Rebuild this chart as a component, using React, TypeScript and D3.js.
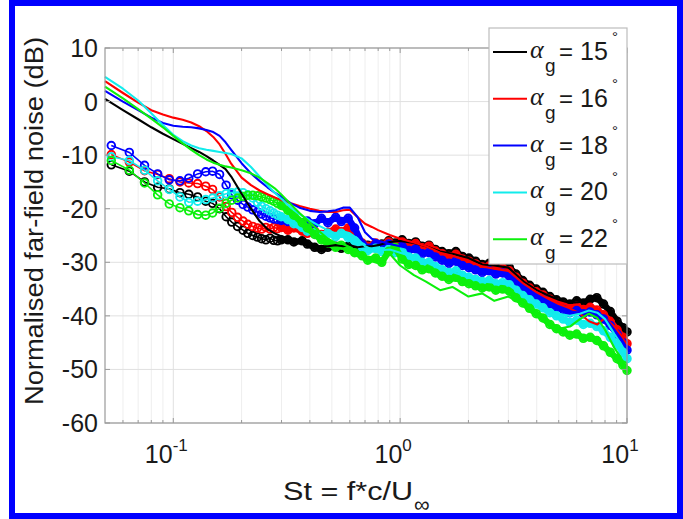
import React from "react";
import * as d3 from "d3";

// ---------- data ----------
const xTickVals = [0.1, 1, 10];
const xTickExp = ["-1", "0", "1"];
const yTickVals = [10, 0, -10, -20, -30, -40, -50, -60];
const legendAngles = ["15", "16", "18", "20", "22"];
const seriesColors = ["#000000", "#ff0000", "#0000ff", "#12ecec", "#0cf00c"];

// marker (circle) series: Strouhal numbers
const markerSt = [
  0.0533, 0.064, 0.0747, 0.0853, 0.096, 0.107, 0.117, 0.128, 0.139, 0.149, 0.16, 0.171,
  0.181, 0.192, 0.203, 0.213, 0.224, 0.235, 0.245, 0.256, 0.267, 0.277, 0.288, 0.299,
  0.32, 0.34, 0.37, 0.39, 0.42, 0.45, 0.48, 0.52, 0.55, 0.59, 0.63, 0.68, 0.72, 0.78,
  0.83, 0.89, 0.95, 1.02, 1.09, 1.17, 1.25, 1.34, 1.43, 1.53, 1.64, 1.76, 1.88, 2.01,
  2.15, 2.3, 2.47, 2.64, 2.83, 3.03, 3.24, 3.47, 3.72, 3.98, 4.26, 4.57, 4.89, 5.23,
  5.6, 6.0, 6.42, 6.88, 7.36, 7.88, 8.44, 9.04, 9.6, 10.0,
];
const mk15 = [
  -11.8, -13.0, -15.0, -16.0, -16.3, -17.0, -17.3, -17.8, -18.6, -19.0, -20.0, -21.5,
  -22.5, -23.3, -24.0, -24.6, -25.0, -25.3, -25.6, -25.8, -25.5, -25.9, -26.0, -25.8,
  -25.8, -26.2, -26.0, -26.6, -27.2, -27.6, -27.2, -27.0, -27.4, -27.0, -27.8, -27.2,
  -26.8, -27.3, -26.6, -26.0, -26.4, -25.8, -26.5, -26.2, -27.0, -26.8, -27.6, -28.0,
  -28.4, -28.0, -28.9, -29.2, -29.8, -30.4, -30.2, -30.8, -30.6, -31.0, -32.2, -33.4,
  -34.3, -35.0, -35.6, -36.4, -37.0, -37.4, -37.8, -37.2, -37.6, -36.9, -36.6, -37.8,
  -39.2, -41.0, -42.2, -43.0,
];
const mk16 = [
  -9.9, -11.3, -12.9, -13.6, -14.4, -15.0, -15.2, -15.3, -15.8, -16.4, -17.8, -19.6,
  -20.7, -21.6, -22.3, -22.9, -23.3, -23.6, -23.8, -23.5, -23.8, -23.5, -23.7, -23.5,
  -24.0, -23.6, -24.2, -24.6, -24.2, -24.8, -24.4, -23.8, -24.3, -23.6, -24.6, -26.4,
  -27.0, -26.4, -26.8, -26.2, -26.8, -26.2, -26.9, -26.5, -27.3, -27.0, -27.9, -28.4,
  -28.9, -28.5, -29.4, -29.8, -30.3, -30.9, -30.7, -31.3, -31.1, -31.6, -32.8, -33.9,
  -34.8, -35.5, -36.1, -36.9, -37.6, -38.0, -38.6, -38.2, -38.8, -38.4, -38.9, -39.8,
  -41.0, -42.6, -44.0, -45.2,
];
const mk18 = [
  -8.2, -9.5, -11.9, -13.5, -14.6, -14.8, -14.3, -13.5, -13.1, -13.0, -13.6, -15.6,
  -17.4, -18.4, -19.2, -19.7, -20.2, -20.6, -21.0, -21.4, -21.7, -21.9, -22.0, -22.2,
  -22.4, -22.0, -22.6, -22.3, -22.8, -21.8, -22.6, -21.6, -22.4, -21.8, -23.6, -26.6,
  -27.4, -26.6, -27.2, -26.6, -27.4, -27.0, -27.8, -27.5, -28.4, -28.2, -29.0, -29.6,
  -30.2, -29.8, -30.6, -31.0, -31.4, -31.9, -31.6, -32.2, -32.0, -32.6, -33.6, -34.6,
  -35.5, -36.3, -36.9, -37.8, -38.4, -38.8, -39.4, -39.0, -39.6, -39.3, -39.8, -40.6,
  -41.8, -43.4, -45.0, -46.4,
];
const mk20 = [
  -10.3, -11.0, -12.8, -14.8, -16.4, -17.8, -18.8, -18.6, -18.3, -18.0, -17.6, -17.2,
  -17.0, -16.9, -17.0, -17.4, -18.0, -18.8, -19.5, -20.0, -20.4, -20.8, -21.2, -21.5,
  -22.0, -22.8, -23.5, -24.2, -24.5, -25.0, -24.6, -25.2, -24.6, -25.4, -26.0, -27.2,
  -27.8, -27.4, -28.0, -27.6, -28.2, -28.0, -29.0, -29.2, -30.0, -30.0, -30.8, -31.4,
  -31.9, -31.6, -32.4, -32.8, -33.2, -33.6, -33.4, -34.0, -33.8, -34.2, -35.2, -36.2,
  -37.0, -37.8, -38.5, -39.4, -40.0, -40.6, -41.2, -40.8, -41.6, -41.4, -42.0, -42.8,
  -44.0, -45.4, -46.8, -48.0,
];
const mk22 = [
  -11.0, -12.8, -15.2, -17.4, -19.1, -19.8, -20.4, -21.1, -21.2, -20.8, -19.9, -19.0,
  -18.4, -18.0, -17.7, -17.5, -17.5, -17.6, -17.8, -18.0, -18.3, -18.6, -19.0, -19.4,
  -20.3, -21.2, -22.6, -23.6, -24.8, -25.8, -26.4, -27.2, -26.8, -27.6, -28.2, -28.8,
  -29.6, -29.2, -30.0, -28.0, -27.2, -29.4, -30.4, -30.6, -31.4, -31.2, -32.0, -32.6,
  -33.2, -32.8, -33.6, -34.0, -34.4, -34.8, -34.6, -35.2, -35.0, -35.4, -36.6, -37.6,
  -38.6, -39.6, -40.4, -41.6, -42.4, -43.0, -43.6, -43.4, -44.2, -44.0, -44.6, -45.6,
  -46.8, -48.0, -49.2, -50.2,
];

// plain line series
const lineSt = [
  0.05, 0.06, 0.07, 0.08, 0.09, 0.1, 0.11, 0.12, 0.13, 0.14, 0.15, 0.16, 0.17, 0.18, 0.2,
  0.22, 0.24, 0.26, 0.28, 0.3, 0.33, 0.36, 0.4, 0.44, 0.48, 0.52, 0.56, 0.6, 0.65, 0.7,
  0.75, 0.8, 0.9, 1.0, 1.15, 1.3, 1.5, 1.7, 2.0, 2.3, 2.6, 3.0, 3.5, 4.0, 4.5, 5.0, 5.6,
  6.2, 6.8, 7.4, 8.0, 8.8, 9.4, 10,
];
const ln15 = [
  0.5, -1.6, -3.3, -4.8, -6.0, -7.0, -7.9, -8.7, -9.4, -10.2, -11.0, -11.8, -12.6, -14.0,
  -17.2, -20.0, -22.3, -23.8, -24.6, -25.2, -25.6, -26.0, -26.4, -27.0, -27.0, -26.8,
  -27.0, -26.8, -27.2, -27.0, -27.0, -26.8, -26.2, -26.0, -26.4, -27.0, -28.0, -28.4,
  -29.2, -30.4, -30.6, -31.0, -33.6, -35.2, -36.2, -37.0, -37.6, -37.4, -37.0, -36.8,
  -38.0, -40.4, -41.6, -43.0,
];
const ln16 = [
  3.8, 1.6, -0.2, -1.6, -2.4, -3.0, -3.4, -3.9, -4.6, -5.5, -6.6, -8.0, -9.8, -11.6,
  -14.2, -15.6, -16.6, -17.3, -17.9, -18.4, -19.0, -19.5, -20.0, -20.4, -20.6, -20.6,
  -20.3, -20.2, -21.6, -22.8, -23.4, -24.0, -24.9, -25.6, -26.3, -27.0, -28.2, -28.8,
  -29.8, -30.8, -31.2, -31.6, -34.0, -35.6, -36.8, -37.8, -38.6, -39.6, -41.0, -41.6,
  -40.4, -42.0, -43.6, -45.4,
];
const ln18 = [
  2.0, 0.0, -1.6, -3.0, -4.0, -4.5, -4.7, -4.8, -5.0, -5.3, -5.7, -6.4, -7.6, -9.0,
  -11.5, -13.4, -14.8, -16.0, -17.0, -17.8, -19.0, -19.8, -20.4, -20.6, -20.5, -20.3,
  -19.8, -19.8, -21.6, -24.4, -25.6, -26.0, -26.6, -27.0, -27.6, -28.4, -29.6, -30.2,
  -31.0, -31.8, -32.2, -32.6, -34.6, -36.2, -37.4, -38.4, -39.2, -39.4, -39.0, -39.4,
  -40.4, -42.6, -44.2, -46.0,
];
const ln20 = [
  4.6, 2.4, 0.2, -2.2, -4.4, -6.2, -7.4, -8.2, -8.7, -9.0, -9.2, -9.4, -9.6, -9.8,
  -10.6, -12.2, -14.0, -15.6, -17.0, -18.2, -19.8, -21.0, -22.2, -23.2, -24.0, -24.6,
  -24.2, -24.6, -25.6, -27.0, -27.6, -27.8, -27.6, -28.2, -29.0, -30.0, -31.2, -31.8,
  -32.8, -33.6, -33.8, -34.2, -36.2, -37.8, -38.8, -39.6, -40.0, -39.6, -39.0, -39.4,
  -40.6, -43.4, -45.2, -47.2,
];
const ln22 = [
  2.8, 0.6, -1.4, -3.2, -4.8, -6.4, -7.8, -9.0, -10.0, -10.8, -11.4, -11.8, -12.1, -12.3,
  -12.8, -13.4, -14.2, -15.2, -16.2, -17.4, -19.2, -20.8, -22.6, -24.2, -25.6, -26.4,
  -26.6, -27.2, -28.0, -29.0, -29.8, -30.2, -28.4, -30.6, -32.4, -33.6, -35.2, -34.6,
  -36.4, -35.8, -37.2, -36.4, -38.0, -39.8, -41.4, -42.4, -42.0, -40.6, -39.6, -40.4,
  -42.6, -46.0, -47.8, -50.0,
];

const markerData = [mk15, mk16, mk18, mk20, mk22];
const lineData = [ln15, ln16, ln18, ln20, ln22];
const minorTicks = [0.06, 0.07, 0.08, 0.09, 0.2, 0.3, 0.4, 0.5, 0.6, 0.7, 0.8, 0.9, 2, 3, 4, 5, 6, 7, 8, 9];
const denseFrom = 0.3; // markers overlap into a solid band above this St

// ---------- layout ----------
const W = 683;
const H = 519;
const PL = 105, PR = 627, PT = 48, PB = 423;
const FONT = "'Liberation Sans', Arial, Helvetica, sans-serif";
const TXT = "#1a1a1a";

export default function App() {
  const x = d3.scaleLog().domain([0.05, 10]).range([PL, PR]);
  const y = d3.scaleLinear().domain([-60, 10]).range([PB, PT]);
  const line = d3
    .line<[number, number]>()
    .x((d) => x(d[0]))
    .y((d) => y(d[1]));

  const legY = (i: number) => 52 + i * 46.8;

  return (
    <svg
      width={W}
      height={H}
      style={{ position: "absolute", left: 0, top: 0, background: "#fff" }}
      fontFamily={FONT}
    >
      <rect x={0} y={0} width={W} height={H} fill="#fff" />
      {/* grid */}
      <g>
        {minorTicks.map((t) => (
          <line key={"mg" + t} x1={x(t)} x2={x(t)} y1={PT} y2={PB} stroke="#eeeeee" strokeWidth={1} />
        ))}
        {xTickVals.map((t) => (
          <line key={"xg" + t} x1={x(t)} x2={x(t)} y1={PT} y2={PB} stroke="#e0e0e0" strokeWidth={1} />
        ))}
        {yTickVals.map((t) => (
          <line key={"yg" + t} x1={PL} x2={PR} y1={y(t)} y2={y(t)} stroke="#e0e0e0" strokeWidth={1} />
        ))}
      </g>

      {/* data */}
      <g>
        {markerData.map((vals, si) => {
          const pts = markerSt.map((s, i) => [s, vals[i]] as [number, number]);
          const dense = pts.filter((p) => p[0] >= denseFrom - 0.002);
          return (
            <g key={"mk" + si}>
              <path d={line(pts) || ""} fill="none" stroke={seriesColors[si]} strokeWidth={1.6} />
              <path
                d={line(dense) || ""}
                fill="none"
                stroke={seriesColors[si]}
                strokeWidth={6.5}
                strokeLinejoin="round"
                strokeLinecap="round"
              />
              {pts.map((p, i) => (
                <circle
                  key={i}
                  cx={x(p[0])}
                  cy={y(p[1])}
                  r={3.8}
                  fill="none"
                  stroke={seriesColors[si]}
                  strokeWidth={1.9}
                />
              ))}
            </g>
          );
        })}
        {lineData.map((vals, si) => {
          const pts = lineSt.map((s, i) => [s, vals[i]] as [number, number]);
          return (
            <path
              key={"ln" + si}
              d={line(pts) || ""}
              fill="none"
              stroke={seriesColors[si]}
              strokeWidth={2.1}
              strokeLinejoin="round"
            />
          );
        })}
      </g>

      {/* axes box and ticks */}
      <rect x={PL} y={PT} width={PR - PL} height={PB - PT} fill="none" stroke="#9a9a9a" strokeWidth={1.2} />
      {minorTicks.map((t) => (
        <g key={"mt" + t} stroke="#9a9a9a">
          <line x1={x(t)} x2={x(t)} y1={PB} y2={PB - 3} />
          <line x1={x(t)} x2={x(t)} y1={PT} y2={PT + 3} />
        </g>
      ))}
      {xTickVals.map((t) => (
        <g key={"xt" + t} stroke="#9a9a9a">
          <line x1={x(t)} x2={x(t)} y1={PB} y2={PB - 5} />
          <line x1={x(t)} x2={x(t)} y1={PT} y2={PT + 5} />
        </g>
      ))}
      {yTickVals.map((t) => (
        <g key={"yt" + t} stroke="#9a9a9a">
          <line x1={PL} x2={PL + 5} y1={y(t)} y2={y(t)} />
          <line x1={PR} x2={PR - 5} y1={y(t)} y2={y(t)} />
        </g>
      ))}

      {/* tick labels */}
      {yTickVals.map((t) => (
        <text key={"yl" + t} x={98} y={y(t) + 9} textAnchor="end" fontSize={25} fill={TXT}>
          {t}
        </text>
      ))}
      {xTickVals.map((t, i) => (
        <text key={"xl" + t} x={x(t) - 7} y={463} textAnchor="middle" fontSize={25} fill={TXT}>
          10
          <tspan dy={-12} fontSize={17}>
            {xTickExp[i]}
          </tspan>
        </text>
      ))}

      {/* axis labels */}
      <text x={283} y={500} fontSize={25} fill={TXT} textLength={130} lengthAdjust="spacingAndGlyphs">
        St = f*c/U
      </text>
      <text x={414} y={512} fontSize={22} fill={TXT}>
        ∞
      </text>
      <text
        transform={`translate(43, 221) rotate(-90)`}
        textAnchor="middle"
        fontSize={25}
        fill={TXT}
        textLength={368}
        lengthAdjust="spacingAndGlyphs"
      >
        Normalised far-field noise (dB)
      </text>

      {/* legend */}
      <rect x={489} y={28} width={138} height={236} fill="#fff" stroke="#bdbdbd" strokeWidth={1.2} />
      {legendAngles.map((a, i) => (
        <g key={"lg" + i} fill={TXT}>
          <line x1={493} x2={527} y1={legY(i)} y2={legY(i)} stroke={seriesColors[i]} strokeWidth={2} />
          <text
            x={530}
            y={legY(i) + 6}
            fontSize={26}
            fontFamily="'Liberation Serif', 'DejaVu Serif', serif"
            fontStyle="italic"
          >
            α
          </text>
          <text x={545} y={legY(i) + 20} fontSize={19}>
            g
          </text>
          <text x={559} y={legY(i) + 8} fontSize={24}>
            =
          </text>
          <text x={580} y={legY(i) + 8} fontSize={25}>
            {a}
          </text>
          <text x={612} y={legY(i) - 10} fontSize={15}>
            °
          </text>
        </g>
      ))}

      {/* blue frame */}
      <rect x={12} y={3} width={668} height={513} fill="none" stroke="#0000ff" strokeWidth={6} />
    </svg>
  );
}
